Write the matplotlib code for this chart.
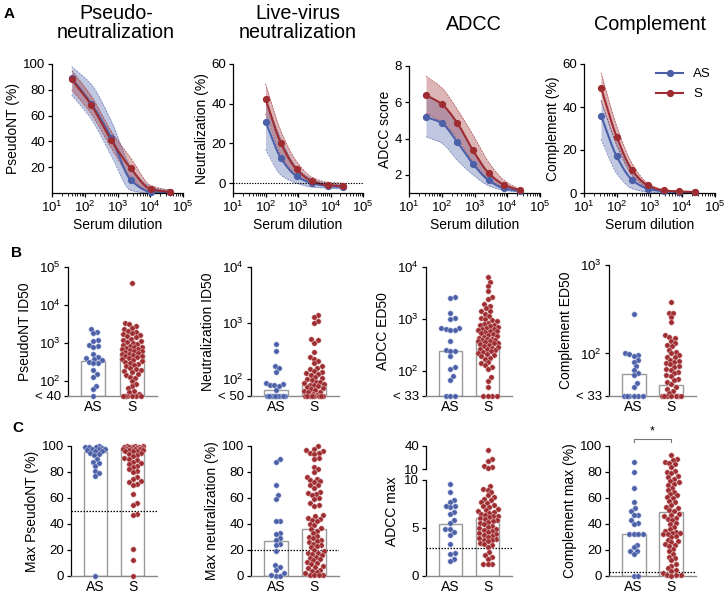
import numpy as np
import matplotlib
matplotlib.use('Agg')
import matplotlib.pyplot as plt
from matplotlib.ticker import LogLocator, NullFormatter, NullLocator
from matplotlib.lines import Line2D

plt.rcParams['font.family'] = ['Liberation Sans', 'DejaVu Sans']
plt.rcParams['mathtext.fontset'] = 'custom'
plt.rcParams['mathtext.rm'] = 'Liberation Sans'
plt.rcParams['mathtext.it'] = 'Liberation Sans:italic'
plt.rcParams['mathtext.bf'] = 'Liberation Sans:bold'
plt.rcParams['axes.linewidth'] = 0.9
plt.rcParams['xtick.major.width'] = 0.9
plt.rcParams['ytick.major.width'] = 0.9

BLUE = '#4c60a8'
RED = '#9e2d32'
GREY = '#9a9a9a'

# ---------------- Row A : dilution curves ----------------
pnt_dil = [40, 160, 640, 2560, 10240, 40960]
pnt_as = [89, 69, 43, 10, 1, 0.5]
pnt_as_lo = [76, 57, 29, 2, 0, 0]
pnt_as_hi = [98, 84, 56, 20, 5, 2]
pnt_s = [88, 68, 41, 19, 3, 0.8]
pnt_s_lo = [80, 61, 35, 12, 1, 0]
pnt_s_hi = [95, 75, 48, 27, 6, 2]

lv_dil = [100, 300, 900, 2700, 8100, 24300]
lv_as = [31, 12.5, 3.5, 0, -1.5, -2]
lv_as_lo = [17, 4, 0, -2, -2.5, -3]
lv_as_hi = [42, 22, 8, 2, 0, -1]
lv_s = [42.5, 20, 7, 1, -1, -1.5]
lv_s_lo = [35, 14, 3.5, 0, -1.5, -2]
lv_s_hi = [50, 26, 11, 3, 0.5, 0]

adcc_dil = [33, 100, 300, 900, 2700, 8100, 24300]
adcc_as = [5.2, 4.85, 3.8, 2.6, 1.7, 1.25, 1.1]
adcc_as_lo = [4.1, 3.75, 2.8, 2.0, 1.4, 1.15, 1.05]
adcc_as_hi = [6.3, 5.9, 4.8, 3.3, 2.1, 1.4, 1.15]
adcc_s = [6.4, 5.9, 4.85, 3.35, 2.1, 1.45, 1.15]
adcc_s_lo = [5.4, 4.9, 4.0, 2.7, 1.75, 1.3, 1.1]
adcc_s_hi = [7.45, 6.8, 5.6, 4.2, 2.7, 1.7, 1.2]

comp_dil = [33, 100, 300, 900, 2700, 8100, 24300]
comp_as = [36, 17, 6, 2, 0.8, 0.5, 0.3]
comp_as_lo = [25, 9, 2, 0.5, 0.2, 0.2, 0.1]
comp_as_hi = [43, 23, 9.5, 3.2, 1.2, 0.8, 0.6]
comp_s = [49, 26, 10.5, 3.5, 1.2, 0.7, 0.5]
comp_s_lo = [43, 22, 8, 2.5, 0.8, 0.5, 0.3]
comp_s_hi = [56, 31, 13.5, 4.5, 1.6, 0.9, 0.7]

# ---------------- Row B : titers ----------------
groups = ['AS', 'S']
b1_as = [2300, 2000, 1800, 1200, 1100, 900, 850, 800, 520, 420, 400, 380, 350,
         320, 300, 290, 190, 150, 130, 75, 60, 40]
b1_s = [38000, 3400, 3100, 2800, 2500, 2300, 2100, 2000, 1800, 1700, 1600, 1500,
        1400, 1300, 1200, 1100, 1050, 1000, 950, 900, 850, 800, 780, 750, 700,
        680, 650, 620, 600, 580, 550, 520, 500, 480, 460, 440, 420, 400, 380, 360,
        340, 320, 300, 280, 260, 240, 220, 200, 190, 180, 170, 150, 140, 130, 120,
        100, 85, 75, 65, 55, 50, 45, 40, 40, 40, 40, 40, 40]
b1_bar = [335, 525]

b2_as = [420, 315, 170, 155, 135, 85, 82, 80, 78, 75, 65, 50, 50, 50, 50, 50,
         50, 50, 50, 50, 50]
b2_s = [1400, 1300, 1100, 1000, 520, 500, 450, 300, 250, 230, 210, 190, 170,
        160, 150, 140, 135, 130, 125, 120, 110, 105, 100, 95, 90, 88, 85, 82, 80,
        78, 75, 72, 70, 68, 65, 62, 60, 58, 55, 52, 50, 50, 50, 50, 50, 50, 50, 50]
b2_bar = [65, 77]

b3_as = [2600, 2550, 1300, 1050, 1000, 680, 660, 650, 620, 610, 380, 250, 245,
         240, 195, 117, 110, 80, 67, 33, 33, 33]
b3_s = [6500, 5200, 4400, 3400, 2600, 2400, 1900, 1800, 1600, 1450, 1400, 1250,
        1150, 1050, 1000, 950, 900, 850, 800, 780, 760, 720, 700, 680, 650, 640,
        620, 600, 580, 560, 540, 520, 500, 480, 460, 440, 420, 410, 400, 390, 380,
        370, 360, 350, 340, 330, 320, 300, 290, 280, 270, 260, 250, 240, 230, 220,
        210, 200, 190, 180, 170, 150, 140, 130, 120, 110, 75, 65, 50, 33, 33, 33, 33]
b3_bar = [245, 380]

b4_as = [280, 100, 98, 96, 94, 85, 80, 72, 65, 60, 57, 46, 42, 33, 33, 33, 33,
         33, 33]
b4_s = [380, 290, 285, 255, 225, 160, 155, 150, 140, 130, 125, 120, 110, 105,
        100, 95, 92, 90, 85, 82, 80, 77, 75, 72, 70, 67, 65, 62, 60, 57, 55, 52,
        50, 47, 45, 42, 40, 38, 36, 33, 33, 33, 33, 33, 33, 33]
b4_bar = [58, 44]

# ---------------- Row C : max responses ----------------
c1_as = [100, 99.5, 99, 99, 98.5, 98, 98, 97.5, 97, 96.5, 96, 95, 94, 93, 90,
         88, 87, 85, 81, 79, 77, 0]
c1_s = [100, 100, 100, 99.5, 99.5, 99, 99, 99, 98.5, 98.5, 98, 98, 98, 97.5,
        97.5, 97, 97, 96.5, 96, 96, 95, 94, 93, 92, 91, 90, 89, 88, 87, 86, 85,
        84, 82, 81, 80, 76, 75, 73, 72, 71, 70, 63, 56, 55, 48, 47, 21, 12, 0]
c1_bar = [95.5, 98.2]

c2_as = [90, 88, 70, 62, 59, 42, 42, 33, 32, 29, 28, 24.5, 24, 19, 8.5, 7, 5,
         2.6, 0, 0, 1]
c2_s = [100, 98, 97, 96, 95, 95, 94, 91, 90, 84, 82, 80, 76, 75, 74, 73, 72,
        70, 70, 68, 65, 64, 63, 62, 60, 59, 56, 55, 54, 47, 46, 45, 44, 43, 42,
        40, 39, 37, 36, 35, 33, 31, 30, 29, 28, 27, 26, 25, 24, 23, 22, 20, 19,
        18, 18, 17, 16, 15, 14, 13, 12, 11, 10, 9, 8, 7, 6, 5, 4, 3, 2, 1, 1, 0.5,
        0.5]
c2_bar = [27.2, 36.5]

c3_as = [9.6, 8.7, 7.9, 7.7, 7.25, 7.2, 6.7, 6.5, 5.8, 5.5, 4.85, 4.6, 4.85,
         4.3, 3.3, 2.4, 2.3, 1.8, 1.6, 7.3]
c3_s = [35, 23, 21, 14, 12, 11, 9.4, 9.1, 9.0, 8.7, 8.4, 8.2, 8.0, 7.9, 7.7, 7.6,
        7.4, 7.3, 7.2, 7.0, 6.9, 6.8, 6.7, 6.6, 6.5, 6.4, 6.3, 6.2, 6.1, 6.0, 5.9,
        5.8, 5.7, 5.6, 5.5, 5.4, 5.2, 5.1, 5.0, 4.9, 4.8, 4.7, 4.6, 4.5, 4.4, 4.3,
        4.2, 4.1, 4.0, 3.9, 3.8, 3.7, 3.6, 3.4, 3.3, 3.2, 3.0, 2.5, 2.2, 2.0, 1.8,
        1.3, 1.2, 1.2]
c3_bar = [5.37, 6.0]

c4_as = [88, 80, 68, 57, 52, 50, 47, 47, 43, 41, 40, 32, 32, 32, 32, 24, 22,
         19, 19, 17, 0, 0]
c4_s = [93, 90, 89, 88, 87, 86, 84, 81, 80, 79, 77, 76, 75, 73, 72, 71, 70, 68,
        66, 65, 63, 62, 61, 60, 58, 57, 55, 53, 52, 51, 50, 48, 47, 46, 45, 44,
        43, 41, 40, 38, 36, 35, 34, 33, 33, 32, 32, 31, 30, 28, 27, 26, 25, 24,
        23, 21, 19, 17, 15, 14, 12, 9, 8, 6, 5, 4, 2, 1, 0.5, 0.5, 0]
c4_bar = [32, 49.6]

W, H = 727, 598
fig = plt.figure(figsize=(W / 100, H / 100), dpi=100)


def add_ax(L, R, T, B):
    return fig.add_axes([L / W, 1 - B / H, (R - L) / W, (B - T) / H])


def pchip(x, y, xn):
    x = np.asarray(x, float); y = np.asarray(y, float)
    h = np.diff(x); d = np.diff(y) / h
    m = np.zeros_like(y)
    m[0] = d[0]; m[-1] = d[-1]
    for k in range(1, len(x) - 1):
        if d[k - 1] * d[k] <= 0:
            m[k] = 0
        else:
            w1 = 2 * h[k] + h[k - 1]; w2 = h[k] + 2 * h[k - 1]
            m[k] = (w1 + w2) / (w1 / d[k - 1] + w2 / d[k])
    idx = np.clip(np.searchsorted(x, xn) - 1, 0, len(x) - 2)
    t = (xn - x[idx]) / h[idx]
    h00 = 2 * t**3 - 3 * t**2 + 1; h10 = t**3 - 2 * t**2 + t
    h01 = -2 * t**3 + 3 * t**2; h11 = t**3 - t**2
    return h00 * y[idx] + h10 * h[idx] * m[idx] + h01 * y[idx + 1] + h11 * h[idx] * m[idx + 1]


def curve_panel(ax, dil, series, ylim, yticks, ylabel, zero_line=False):
    lx = np.log10(dil)
    xn = np.linspace(lx[0], lx[-1], 200)
    for (mean, lo, hi, col) in series:
        ax.fill_between(10**xn, pchip(lx, lo, xn), pchip(lx, hi, xn), color=col,
                        alpha=0.35, lw=0)
        ax.plot(10**xn, pchip(lx, lo, xn), color=col, lw=0.5, ls=(0, (3, 1.5)), alpha=0.8)
        ax.plot(10**xn, pchip(lx, hi, xn), color=col, lw=0.5, ls=(0, (3, 1.5)), alpha=0.8)
    for (mean, lo, hi, col) in series:
        ax.plot(10**xn, pchip(lx, mean, xn), color=col, lw=1.5)
        ax.plot(dil, mean, 'o', color=col, ms=4.2, mec=col, clip_on=False, zorder=5)
    ax.set_xscale('log')
    ax.set_xlim(10, 1e5)
    ax.set_ylim(*ylim)
    ax.set_yticks(yticks)
    ax.set_xticks([10, 100, 1000, 1e4, 1e5])
    ax.set_xticklabels(['$10^1$', '$10^2$', '$10^3$', '$10^4$', '$10^5$'])
    ax.xaxis.set_minor_locator(LogLocator(base=10, subs=np.arange(2, 10), numticks=20))
    ax.xaxis.set_minor_formatter(NullFormatter())
    ax.tick_params(axis='both', which='major', labelsize=9.5, length=3, pad=2)
    ax.tick_params(axis='x', which='minor', length=1.8, width=0.6)
    ax.spines['top'].set_visible(False)
    ax.spines['right'].set_visible(False)
    ax.set_xlabel('Serum dilution', fontsize=10, labelpad=2)
    ax.set_ylabel(ylabel, fontsize=10, labelpad=2)
    if zero_line:
        ax.axhline(0, color='black', lw=0.8, ls=(0, (1.2, 1.2)))


a1 = add_ax(52, 183, 64, 193)
curve_panel(a1, pnt_dil, [(pnt_as, pnt_as_lo, pnt_as_hi, BLUE), (pnt_s, pnt_s_lo, pnt_s_hi, RED)],
            (0, 100), [20, 40, 60, 80, 100], 'PseudoNT (%)')
a2 = add_ax(233, 363, 64, 193)
curve_panel(a2, lv_dil, [(lv_as, lv_as_lo, lv_as_hi, BLUE), (lv_s, lv_s_lo, lv_s_hi, RED)],
            (-5, 60), [0, 20, 40, 60], 'Neutralization (%)', zero_line=True)
a3 = add_ax(409, 540, 66, 193)
curve_panel(a3, adcc_dil, [(adcc_as, adcc_as_lo, adcc_as_hi, BLUE), (adcc_s, adcc_s_lo, adcc_s_hi, RED)],
            (1, 8), [2, 4, 6, 8], 'ADCC score')
a4 = add_ax(584, 715, 64, 193)
curve_panel(a4, comp_dil, [(comp_as, comp_as_lo, comp_as_hi, BLUE), (comp_s, comp_s_lo, comp_s_hi, RED)],
            (0, 60), [0, 20, 40, 60], 'Complement (%)')
handles = [Line2D([], [], color=BLUE, lw=1.5, marker='o', ms=4.2),
           Line2D([], [], color=RED, lw=1.5, marker='o', ms=4.2)]
a4.legend(handles, groups, loc='upper right', frameon=False, fontsize=9.5,
          handlelength=2.0, borderaxespad=0.1, labelspacing=0.6, bbox_to_anchor=(1.02, 1.02))

# titles
title_kw = dict(fontsize=14.2, ha='center', va='center', linespacing=1.05)
fig.text(116 / W, 1 - 23 / H, 'Pseudo-\nneutralization', **title_kw)
fig.text(298 / W, 1 - 23 / H, 'Live-virus\nneutralization', **title_kw)
fig.text(474 / W, 1 - 25 / H, 'ADCC', **title_kw)
fig.text(650 / W, 1 - 25 / H, 'Complement', **title_kw)

letter_kw = dict(fontsize=11, fontweight='bold', ha='center', va='center')
fig.text(9 / W, 1 - 14 / H, 'A', **letter_kw)
fig.text(17 / W, 1 - 253 / H, 'B', **letter_kw)
fig.text(18 / W, 1 - 428 / H, 'C', **letter_kw)


def swarm_offsets(ax, xc, vals, diam, maxw):
    pts = ax.transData.transform(np.column_stack([np.full(len(vals), xc), vals]))
    ys = pts[:, 1]
    order = np.argsort(ys)
    placed = []
    offs = np.zeros(len(vals))
    grid = np.linspace(-maxw, maxw, 41)
    for i in order:
        y = ys[i]
        cands = [0.0]
        for (xp, yp) in placed:
            dy = y - yp
            if abs(dy) < diam:
                dx = np.sqrt(diam**2 - dy**2)
                cands += [xp + dx, xp - dx]
        cands = sorted(cands, key=abs)
        chosen = None
        for c in cands:
            if abs(c) > maxw + 1e-9:
                continue
            if all((c - xp)**2 + (y - yp)**2 >= diam**2 - 1e-6 for xp, yp in placed):
                chosen = c
                break
        if chosen is None:
            best, bscore = 0.0, -1e9
            for g in grid:
                md = min(((g - xp)**2 + (y - yp)**2) for xp, yp in placed)
                score = md - 0.02 * abs(g)
                if score > bscore:
                    best, bscore = g, score
            chosen = best
        placed.append((chosen, y))
        offs[i] = chosen
    pxu = ax.transData.transform((1, 1))[0] - ax.transData.transform((0, 1))[0]
    return offs / pxu


def dots(ax, xc, vals, col, ecol, diam=4.6, maxw=10.0):
    vals = np.asarray(vals, float)
    off = swarm_offsets(ax, xc, vals, diam, maxw)
    ax.scatter(xc + off, vals, s=15, color=col, edgecolors=ecol, linewidths=0.35,
               zorder=4, clip_on=False)


def dot_axes(ax, ylabel):
    ax.set_xlim(-0.65, 1.65)
    ax.spines['top'].set_visible(False)
    ax.spines['right'].set_visible(False)
    ax.spines['bottom'].set_color('#8a8a8a')
    ax.spines['bottom'].set_linewidth(1.0)
    ax.set_xticks([0, 1])
    ax.set_xticklabels(groups)
    ax.tick_params(axis='x', length=0, labelsize=10, pad=3)
    ax.tick_params(axis='y', labelsize=9.5, length=3, pad=2)
    ax.set_ylabel(ylabel, fontsize=10, labelpad=2)


def bars(ax, heights, bottom):
    for i, h in enumerate(heights):
        ax.bar(i, h - bottom, bottom=bottom, width=0.63, color='white',
               edgecolor=GREY, linewidth=1.0, zorder=2)


def log_panel(L, R, T, B, ylim, ticks, labels, as_vals, s_vals, bar_vals, ylabel):
    ax = add_ax(L, R, T, B)
    ax.set_yscale('log')
    ax.set_ylim(*ylim)
    dot_axes(ax, ylabel)
    ax.set_yticks(ticks)
    ax.set_yticklabels(labels)
    ax.yaxis.set_minor_locator(NullLocator())
    bars(ax, bar_vals, ylim[0])
    dots(ax, 0, as_vals, BLUE, '#c9d0ea')
    dots(ax, 1, s_vals, RED, '#e8c4c4')
    return ax


log_panel(68, 157, 267, 396, (40, 1e5), [40, 100, 1000, 1e4, 1e5],
          ['< 40', '$10^2$', '$10^3$', '$10^4$', '$10^5$'], b1_as, b1_s, b1_bar, 'PseudoNT ID50')
log_panel(251, 339, 267, 396, (50, 1e4), [50, 100, 1000, 1e4],
          ['< 50', '$10^2$', '$10^3$', '$10^4$'], b2_as, b2_s, b2_bar, 'Neutralization ID50')
log_panel(426, 512, 267, 396, (33, 1e4), [33, 100, 1000, 1e4],
          ['< 33', '$10^2$', '$10^3$', '$10^4$'], b3_as, b3_s, b3_bar, 'ADCC ED50')
log_panel(609, 696, 265, 396, (33, 1e3), [33, 100, 1000],
          ['< 33', '$10^2$', '$10^3$'], b4_as, b4_s, b4_bar, 'Complement ED50')


def lin_panel(L, R, T, B, as_vals, s_vals, bar_vals, ylabel, dotline):
    ax = add_ax(L, R, T, B)
    ax.set_ylim(0, 100)
    dot_axes(ax, ylabel)
    ax.set_yticks([0, 20, 40, 60, 80, 100])
    bars(ax, bar_vals, 0)
    ax.axhline(dotline, color='black', lw=0.9, ls=(0, (1.2, 1.2)), zorder=3)
    dots(ax, 0, as_vals, BLUE, '#c9d0ea')
    dots(ax, 1, s_vals, RED, '#e8c4c4')
    return ax


lin_panel(71, 157, 446, 576, c1_as, c1_s, c1_bar, 'Max PseudoNT (%)', 50)
lin_panel(251, 339, 446, 576, c2_as, c2_s, c2_bar, 'Max neutralization (%)', 20)
c4 = lin_panel(609, 696, 446, 576, c4_as, c4_s, c4_bar, 'Complement max (%)', 3)

# significance bracket
bx = c4.get_xaxis_transform()
ytop = 1 + 7 / 130
c4.plot([0, 0, 1, 1], [ytop - 0.025, ytop, ytop, ytop - 0.025], color='#777777', lw=0.8,
        transform=bx, clip_on=False)
c4.text(0.5, ytop + 0.01, '*', transform=bx, ha='center', va='bottom', fontsize=9)

# broken ADCC max panel
c3_as_arr = np.asarray(c3_as); c3_s_arr = np.asarray(c3_s)
c3lo = add_ax(426, 512, 480, 576)
c3lo.set_ylim(0, 10)
dot_axes(c3lo, '')
c3lo.set_yticks([0, 5, 10])
bars(c3lo, c3_bar, 0)
c3lo.axhline(2.9, color='black', lw=0.9, ls=(0, (1.2, 1.2)), zorder=3)
dots(c3lo, 0, c3_as_arr[c3_as_arr <= 10], BLUE, '#c9d0ea')
dots(c3lo, 1, c3_s_arr[c3_s_arr <= 10], RED, '#e8c4c4')

c3hi = add_ax(426, 512, 446, 469)
c3hi.set_ylim(10, 40)
c3hi.set_xlim(-0.65, 1.65)
c3hi.spines['top'].set_visible(False)
c3hi.spines['right'].set_visible(False)
c3hi.spines['bottom'].set_visible(False)
c3hi.set_xticks([])
c3hi.set_yticks([10, 40])
c3hi.tick_params(axis='y', labelsize=9.5, length=3, pad=2)
dots(c3hi, 1, c3_s_arr[c3_s_arr > 10], RED, '#e8c4c4')
fig.text(392 / W, 1 - 511 / H, 'ADCC max', rotation=90, fontsize=10, ha='center', va='center')

fig.savefig('out.png', dpi=100)
